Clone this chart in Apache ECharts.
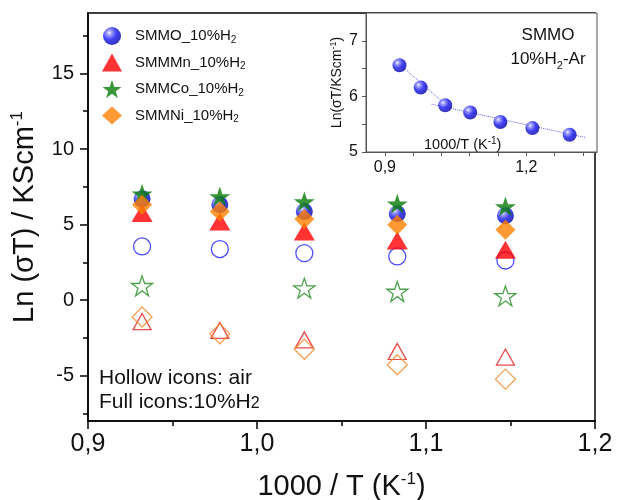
<!DOCTYPE html>
<html>
<head>
<meta charset="utf-8">
<title>Ln(sigma T) vs 1000/T</title>
<script src="https://cdn.jsdelivr.net/npm/echarts@6/dist/echarts.min.js"></script>
<style>
  html, body { margin: 0; padding: 0; background: #fff; }
  #chart { width: 617px; height: 500px; }
</style>
</head>
<body>
<div id="chart"></div>
<script>
// 1000/T positions of the five measuring temperatures
var invT = [0.932, 0.978, 1.028, 1.083, 1.147];

// full icons: 10%H2
var smmoH2 = [6.7, 6.31, 5.87, 5.72, 5.58];
var smmmnH2 = [5.76, 5.2, 4.54, 3.95, 3.33];
var smmcoH2 = [7.04, 6.86, 6.53, 6.38, 6.2];
var smmniH2 = [6.31, 5.87, 5.36, 4.99, 4.66];

// hollow icons: air
var smmoAir = [3.55, 3.38, 3.11, 2.89, 2.62];
var smmmnAir = [-1.42, -2.01, -2.63, -3.4, -3.77];
var smmcoAir = [0.95, null, 0.79, 0.57, 0.28];
var smmniAir = [-1.12, -2.23, -3.25, -4.28, -5.23];

var legendNames = ['SMMO_10%H2', 'SMMMn_10%H2', 'SMMCo_10%H2', 'SMMNi_10%H2'];

// inset: SMMO in 10%H2-Ar
var insetX = [0.931, 0.976, 1.028, 1.081, 1.145, 1.213, 1.292];
var insetY = [6.56, 6.16, 5.84, 5.71, 5.54, 5.43, 5.31];
var fitHighX = [0.931, 1.028];
var fitHighY = [6.58, 5.86];
var fitLowX = [0.999, 1.326];
var fitLowY = [5.86, 5.26];

// tick labels
var yMajor = [-5, 0, 5, 10, 15];
var yMinor = [-7.5, -2.5, 2.5, 7.5, 12.5, 17.5];
var insetYLabels = [5, 6, 7];
var insetYTicks = [5, 5.5, 6, 6.5, 7];
var insetXLabels = [0.9, 1.2];
var insetXTicks = [0.9, 0.96, 1.02, 1.08, 1.14, 1.2, 1.26, 1.32];

var FONT = '"Liberation Sans", Arial, sans-serif';
var STAR = 'path://M50,0 L61.8,35.1 L98.1,35.1 L68.8,56.7 L79.4,90.9 L50,69.1 L20.6,90.9 L31.2,56.7 L1.9,35.1 L38.2,35.1 Z';

function zip(xs, ys) {
  var out = [];
  for (var i = 0; i < xs.length; i++) {
    if (ys[i] !== null) out.push([xs[i], ys[i]]);
  }
  return out;
}
function comma(v, d) {
  return v.toFixed(d).replace('.', ',');
}

var sphere = {
  type: 'radial', x: 0.35, y: 0.32, r: 0.7,
  colorStops: [
    { offset: 0, color: '#ffffff' },
    { offset: 0.18, color: '#8c8cff' },
    { offset: 0.55, color: '#1414f0' },
    { offset: 1, color: '#0000a8' }
  ]
};

function hollow(name, sym, size, color, data) {
  return {
    name: name, type: 'scatter', xAxisIndex: 0, yAxisIndex: 0,
    symbol: sym, symbolSize: size, symbolKeepAspect: true,
    itemStyle: { color: 'rgba(0,0,0,0)', borderColor: color, borderWidth: 1.3 },
    data: data
  };
}

var chart = echarts.init(document.getElementById('chart'));

chart.setOption({
  backgroundColor: '#fff',
  animation: false,
  textStyle: { fontFamily: FONT },
  title: [
    {
      text: 'Hollow icons: air\nFull icons:10%H{s|2}',
      left: 94, top: 361,
      textStyle: {
        fontFamily: FONT, fontSize: 21, fontWeight: 'normal', color: '#111', lineHeight: 24,
        rich: { s: { fontFamily: FONT, fontSize: 16, padding: [3, 0, 0, 0], color: '#111' } }
      }
    },
    {
      text: 'SMMO\n10%H{s|2}-Ar',
      left: 543, top: 18, textAlign: 'center',
      textStyle: {
        fontFamily: FONT, fontSize: 17, fontWeight: 'normal', color: '#111', lineHeight: 24,
        rich: { s: { fontFamily: FONT, fontSize: 11, lineHeight: 14, verticalAlign: 'bottom', color: '#111' } }
      }
    },
    {
      text: '1000/T (K{p|-1})',
      left: 419, top: 131,
      textStyle: {
        fontFamily: FONT, fontSize: 14.5, fontWeight: 'normal', color: '#111', lineHeight: 17,
        rich: { p: { fontFamily: FONT, fontSize: 10, lineHeight: 12, verticalAlign: 'top', color: '#111' } }
      }
    }
  ],
  legend: {
    data: legendNames,
    orient: 'vertical',
    left: 97, top: 22,
    itemWidth: 20, itemHeight: 18, itemGap: 8.5,
    formatter: function(n) {
      return '{t|' + n.slice(0, -1) + '}{s|2}';
    },
    textStyle: {
      rich: {
        t: { fontFamily: FONT, fontSize: 15, color: '#111', padding: [0, 0, 0, 8] },
        s: { fontFamily: FONT, fontSize: 10, color: '#111', padding: [8, 0, 0, 0] }
      }
    }
  },
  grid: [
    { left: 88, right: 22, top: 13, bottom: 79, outerBoundsMode: 'none', show: true, borderColor: '#000', borderWidth: 1.5 },
    { left: 366, right: 20, top: 13, height: 139, outerBoundsMode: 'none', show: true, borderColor: '#555', borderWidth: 1, backgroundColor: '#fff' }
  ],
  xAxis: [
    {
      gridIndex: 0, type: 'value', min: 0.9, max: 1.2, interval: 0.1,
      axisLine: { onZero: false, lineStyle: { color: '#000', width: 1.5 } },
      axisTick: { length: 8, lineStyle: { color: '#000', width: 1.5 } },
      minorTick: { show: true, splitNumber: 2, length: 5, lineStyle: { color: '#000', width: 1.5 } },
      splitLine: { show: false },
      axisLabel: { fontSize: 25, color: '#111', margin: 11, formatter: function(v) { return comma(v, 1); } },
      name: '1000 / T (K{p|-1})',
      nameLocation: 'middle', nameGap: 50,
      nameTextStyle: {
        fontSize: 29, color: '#111', lineHeight: 32,
        rich: { p: { fontFamily: FONT, fontSize: 17, lineHeight: 20, verticalAlign: 'top', color: '#111' } }
      }
    },
    {
      gridIndex: 1, type: 'value', min: 0.86, max: 1.35,
      axisLine: { onZero: false, lineStyle: { color: '#555', width: 1 } },
      axisTick: { customValues: insetXTicks, length: 4, lineStyle: { color: '#555' } },
      splitLine: { show: false },
      axisLabel: { customValues: insetXLabels, fontSize: 16, color: '#111', margin: 8, formatter: function(v) { return comma(v, 1); } }
    }
  ],
  yAxis: [
    {
      gridIndex: 0, type: 'value', min: -8, max: 19,
      axisLine: { onZero: false, lineStyle: { color: '#000', width: 1.5 } },
      axisTick: { customValues: yMajor, length: 8, lineStyle: { color: '#000', width: 1.5 } },
      splitLine: { show: false },
      axisLabel: { customValues: yMajor, fontSize: 20, color: '#111', margin: 14 },
      name: 'Ln (σT) / KScm{p|-1}',
      nameLocation: 'middle', nameGap: 35, nameRotate: 90,
      nameTextStyle: {
        fontSize: 29, color: '#111', lineHeight: 32,
        rich: { p: { fontFamily: FONT, fontSize: 17, lineHeight: 20, verticalAlign: 'top', color: '#111' } }
      }
    },
    {
      // minor ticks of the main y axis
      gridIndex: 0, type: 'value', min: -8, max: 19, position: 'left',
      axisLine: { show: false },
      axisTick: { customValues: yMinor, length: 5, lineStyle: { color: '#000', width: 1.5 } },
      splitLine: { show: false },
      axisLabel: { show: false }
    },
    {
      gridIndex: 1, type: 'value', min: 5, max: 7.5,
      axisLine: { onZero: false, lineStyle: { color: '#555', width: 1 } },
      axisTick: { customValues: insetYTicks, length: 4, lineStyle: { color: '#555' } },
      splitLine: { show: false },
      axisLabel: { customValues: insetYLabels, fontSize: 16, color: '#111', margin: 8 },
      name: 'Ln(σT/KScm{p|-1})',
      nameLocation: 'middle', nameGap: 21, nameRotate: 90,
      nameTextStyle: {
        fontSize: 14, color: '#111', lineHeight: 16,
        rich: { p: { fontFamily: FONT, fontSize: 9, lineHeight: 10, verticalAlign: 'top', color: '#111' } }
      }
    }
  ],
  series: [
    hollow('SMMO_air', 'circle', 17, '#2020ff', zip(invT, smmoAir)),
    hollow('SMMMn_air', 'triangle', [18, 16], '#e51c1c', zip(invT, smmmnAir)),
    hollow('SMMCo_air', STAR, 21, '#1f8a1f', zip(invT, smmcoAir)),
    hollow('SMMNi_air', 'diamond', 20, '#f28a2a', zip(invT, smmniAir)),
    {
      name: legendNames[0], type: 'scatter', xAxisIndex: 0, yAxisIndex: 0,
      symbol: 'circle', symbolSize: 17,
      itemStyle: { color: sphere },
      data: zip(invT, smmoH2)
    },
    {
      name: legendNames[1], type: 'scatter', xAxisIndex: 0, yAxisIndex: 0,
      symbol: 'triangle', symbolSize: [21, 18],
      itemStyle: { color: '#ff0000' },
      data: zip(invT, smmmnH2)
    },
    {
      name: legendNames[2], type: 'scatter', xAxisIndex: 0, yAxisIndex: 0,
      symbol: STAR, symbolSize: 21, symbolKeepAspect: true,
      itemStyle: { color: '#087a08' },
      data: zip(invT, smmcoH2)
    },
    {
      name: legendNames[3], type: 'scatter', xAxisIndex: 0, yAxisIndex: 0,
      symbol: 'diamond', symbolSize: 20,
      itemStyle: { color: '#ff8000' },
      data: zip(invT, smmniH2)
    },
    {
      name: 'fitHigh', type: 'line', xAxisIndex: 1, yAxisIndex: 2,
      symbol: 'none', lineStyle: { type: 'dotted', color: '#6060f0', width: 1 },
      data: zip(fitHighX, fitHighY)
    },
    {
      name: 'fitLow', type: 'line', xAxisIndex: 1, yAxisIndex: 2,
      symbol: 'none', lineStyle: { type: 'dotted', color: '#6060f0', width: 1 },
      data: zip(fitLowX, fitLowY)
    },
    {
      name: 'SMMO_Ar', type: 'scatter', xAxisIndex: 1, yAxisIndex: 2,
      symbol: 'circle', symbolSize: 14, z: 3,
      itemStyle: { color: sphere },
      data: zip(insetX, insetY)
    }
  ]
});

window.addEventListener('resize', function() {
  chart.resize();
});
</script>
</body>
</html>
